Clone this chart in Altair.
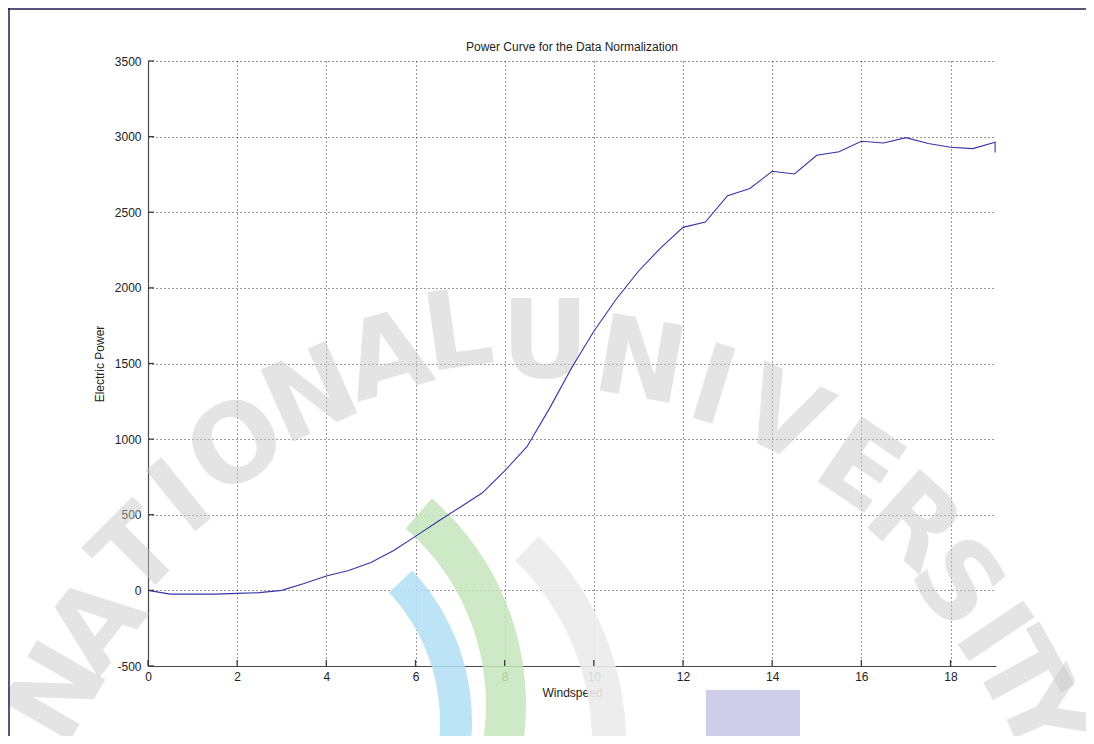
import math
import altair as alt
import pandas as pd

# Data
windspeed = [0, 0.5, 1, 1.5, 2, 2.5, 3, 3.5, 4, 4.5, 5, 5.5, 6, 6.5, 7, 7.5, 8, 8.5,
             9, 9.5, 10, 10.5, 11, 11.5, 12, 12.5, 13, 13.5, 14, 14.5, 15, 15.5,
             16, 16.5, 17, 17.5, 18, 18.5, 19, 19]
power = [0, -25, -25, -25, -20, -15, 0, 45, 95, 132, 185, 262, 357, 455, 550, 645,
         790, 950, 1200, 1470, 1713, 1925, 2110, 2265, 2400, 2435, 2610, 2657, 2771,
         2753, 2877, 2900, 2969, 2958, 2993, 2955, 2930, 2921, 2963, 2895]
order = list(range(len(windspeed)))

x_ticks = [0, 2, 4, 6, 8, 10, 12, 14, 16, 18]
y_ticks = [-500, 0, 500, 1000, 1500, 2000, 2500, 3000, 3500]

title_text = "Power Curve for the Data Normalization"
x_title = "Windspeed"
y_title = "Electric Power"

# faint scanned watermark (decoration): letters, page position and tilt
wm_letters = ["N", "A", "T", "I", "O", "N", "A", "L",
              "U", "N", "I", "V", "E", "R", "S", "I", "T", "Y"]
wm_px = [60, 99, 140, 183, 238, 312, 388, 458,
         545, 640, 712, 782, 858, 912, 955, 990, 1016, 1040]
wm_py = [694, 626, 555, 500, 448, 398, 360, 335,
         345, 365, 390, 420, 470, 525, 585, 635, 676, 716]
wm_rot = [-60, -52, -45, -39, -32, -24, -16, -8,
          0, 10, 17, 25, 34, 42, 50, 56, 61, 66]

FONT = "Liberation Sans"
W, H = 848, 605
PX0, PY0 = 148, 61

df = pd.DataFrame({"Windspeed": windspeed, "Power": power, "order": order})
xt = pd.DataFrame({"t": x_ticks})
yt = pd.DataFrame({"t": y_ticks})
one = pd.DataFrame({"k": [0]})
ttl = pd.DataFrame({"title": [title_text]})
wm = pd.DataFrame({"ch": wm_letters,
                   "px": [p - PX0 for p in wm_px],
                   "py": [p - PY0 for p in wm_py],
                   "rot": wm_rot})

xscale = alt.Scale(domain=[0, 19.02], nice=False, zero=False)
yscale = alt.Scale(domain=[-500, 3500], nice=False, zero=False)


def logo_arc(cx, cy, r_out, r_in, a0, a1, color, op=0.8):
    return alt.Chart(one).mark_arc(
        radius=r_out, radius2=r_in, theta=math.radians(a0), theta2=math.radians(a1),
        color=color, opacity=op,
    ).encode(x=alt.value(cx - PX0), y=alt.value(cy - PY0))


logo_blue = logo_arc(250, 722, 222, 190, 47, 140, "#b2def4", 0.85)
logo_green = logo_arc(252, 705, 274, 234, 41, 130, "#c6e5bb", 0.85)
logo_gray = logo_arc(340, 742, 286, 252, 44, 130, "#ebebeb", 0.9)
logo_rect = alt.Chart(one).mark_rect(color="#c6c6e6", opacity=0.85).encode(
    x=alt.value(706 - PX0), x2=alt.value(800 - PX0),
    y=alt.value(690 - PY0), y2=alt.value(760 - PY0),
)

watermark = alt.Chart(wm).mark_text(
    font="DejaVu Sans", fontSize=108, fontWeight="bold", color="#c8c8c8",
    opacity=0.48, baseline="middle", align="center"
).encode(
    x=alt.X("px:Q", scale=None),
    y=alt.Y("py:Q", scale=None),
    text="ch:N",
    angle=alt.Angle("rot:Q", scale=None),
)

line = alt.Chart(df).mark_line(color="#3434a8", strokeWidth=1.1).encode(
    x=alt.X("Windspeed:Q", scale=xscale,
            axis=alt.Axis(values=x_ticks, title=x_title, grid=True,
                          labelExpr="'' + datum.value",
                          gridDash=[1, 3], gridColor="#333333", gridWidth=1,
                          domainColor="#4a4a4a", domainWidth=1.2, ticks=False,
                          labelPadding=5, titlePadding=5, labelFlush=False)),
    y=alt.Y("Power:Q", scale=yscale,
            axis=alt.Axis(values=y_ticks, title=y_title, grid=True,
                          labelExpr="'' + datum.value",
                          gridDash=[1, 3], gridColor="#333333", gridWidth=1,
                          domainColor="#4a4a4a", domainWidth=1.2, ticks=False,
                          labelPadding=7, titlePadding=8, labelFlush=False)),
    order="order:Q",
)

xtick_marks = alt.Chart(xt).mark_rule(color="#3a3a3a", strokeWidth=1.3).encode(
    x=alt.X("t:Q", scale=xscale),
    y=alt.value(H), y2=alt.value(H - 6),
)
ytick_marks = alt.Chart(yt).mark_rule(color="#3a3a3a", strokeWidth=1.3).encode(
    y=alt.Y("t:Q", scale=yscale),
    x=alt.value(0), x2=alt.value(6),
)

title_mark = alt.Chart(ttl).mark_text(
    font=FONT, fontSize=12, color="#222222", align="center", baseline="alphabetic"
).encode(text="title:N", x=alt.value(W / 2), y=alt.value(-10))

frame_top = alt.Chart(one).mark_rule(color="#1c1c4e", strokeWidth=1.5).encode(
    x=alt.value(-PX0 + 8), x2=alt.value(W + 90), y=alt.value(-PY0 + 9)
)
frame_left = alt.Chart(one).mark_rule(color="#1c1c4e", strokeWidth=1.5).encode(
    x=alt.value(-PX0 + 9), y=alt.value(-PY0 + 8), y2=alt.value(H + 70)
)

chart = alt.layer(
    logo_gray, logo_green, logo_blue, logo_rect, watermark,
    line, xtick_marks, ytick_marks, title_mark, frame_top, frame_left
).properties(
    width=W, height=H,
    autosize=alt.AutoSizeParams(type="none"),
    padding={"left": 140, "top": 53, "right": 90, "bottom": 70},
    background="white",
).configure_view(
    stroke=None
).configure_axis(
    labelFont=FONT, titleFont=FONT, labelFontSize=12, titleFontSize=12,
    labelColor="#222222", titleColor="#222222", titleFontWeight="normal",
)

chart.save("out.html", embed_options={"renderer": "svg", "actions": False})
